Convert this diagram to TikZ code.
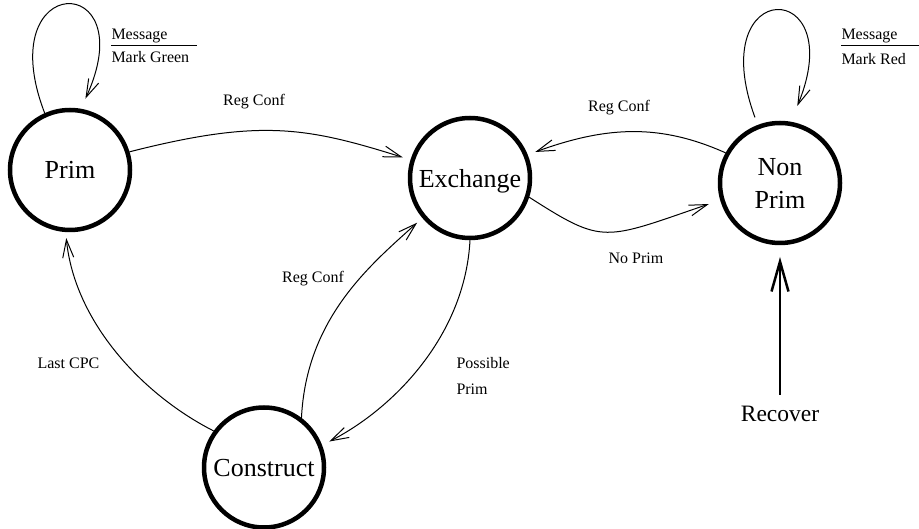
\documentclass[tikz,border=0pt]{standalone}
\usepackage{fontspec}
\setmainfont{Liberation Serif}
\usetikzlibrary{arrows.meta}

\begin{document}
\begin{tikzpicture}[x=1pt, y=1pt, -{Straight Barb[length=18pt,width=11pt]}, line width=1pt,
        shorten >=8pt,
        every node/.append style={font=\fontsize{16}{20}\selectfont},
        bubble/.style={circle, draw, line width=4.5pt, minimum size=120pt, inner sep=0pt,
          text depth=0pt, font=\fontsize{26}{33}\selectfont}]
      \tikzstyle{lbl} = [anchor=base, inner sep=0pt]
      \useasboundingbox (0,0) rectangle (919,-529);
      % states
      \node (Prim) [bubble] at (70,-170) {Prim};
      \node (Exchange) [bubble] at (470,-178) {Exchange};
      \node (NonPrim) [bubble, align=center] at (780,-183) {Non\\Prim};
      \node (Construct) [bubble] at (264,-467.5) {Construct};
      \node (Recover) [lbl, font=\fontsize{23.5}{28}\selectfont] at (780,-421.7) {Recover};
      % self loops
      \draw[shorten >=11pt] (Prim.114) .. controls +(-55,143) and +(64,139) .. (Prim.80);
      \draw[shorten <=8pt, shorten >=17pt] (NonPrim.111) .. controls +(-55,150) and +(60,145) .. (NonPrim.80);
      \node (msgP) [lbl, anchor=base west] at (111,-40) {Message};
      \node (greenP) [lbl, anchor=base west] at (111,-63) {Mark Green};
      \draw[-, shorten >=0pt] (msgP.base west) ++(0,-5.7) -- ++(86,0);
      \node (msgN) [lbl, anchor=base west] at (841,-40) {Message};
      \node (redN) [lbl, anchor=base west] at (841,-64.5) {Mark Red};
      \draw[-, shorten >=0pt] (msgN.base west) ++(0,-5.7) -- ++(78,0);
      % transitions
      \draw (Prim.17) .. controls +(130,33) and +(-105,33) .. (Exchange.163);
      \node (rcTop) [lbl] at (254,-106) {Reg Conf};
      \draw (NonPrim.151) .. controls +(-65,29) and +(80,29) .. (Exchange.22);
      \node (rcRight) [lbl] at (619,-112) {Reg Conf};
      \draw[shorten >=12pt] (Exchange.-18) .. controls +(75,-48) and +(-117,-40) .. (NonPrim.196);
      \node (noPrim) [lbl] at (636,-264) {No Prim};
      \draw (Exchange.-90) .. controls +(-5,-95) and +(72,37) .. (Construct.21);
      \node (possA) [lbl, anchor=base west] at (456,-369) {Possible};
      \node (possB) [lbl, anchor=base west] at (456,-395) {Prim};
      \draw[shorten >=7pt] (Construct.53) .. controls +(5,100) and +(-52,-47) .. (Exchange.220);
      \node (rcMid) [lbl] at (313,-283) {Reg Conf};
      \draw[shorten >=6pt] (Construct.144) .. controls +(-71,36) and +(9,-90) .. (Prim.-94);
      \node (lastCPC) [lbl] at (68.5,-369) {Last CPC};
      \draw[line width=2.5pt, -{Straight Barb[length=30pt,width=17pt]}, shorten <=11pt, shorten >=11.7pt]
        (Recover) -- (NonPrim);
    \end{tikzpicture}
\end{document}
